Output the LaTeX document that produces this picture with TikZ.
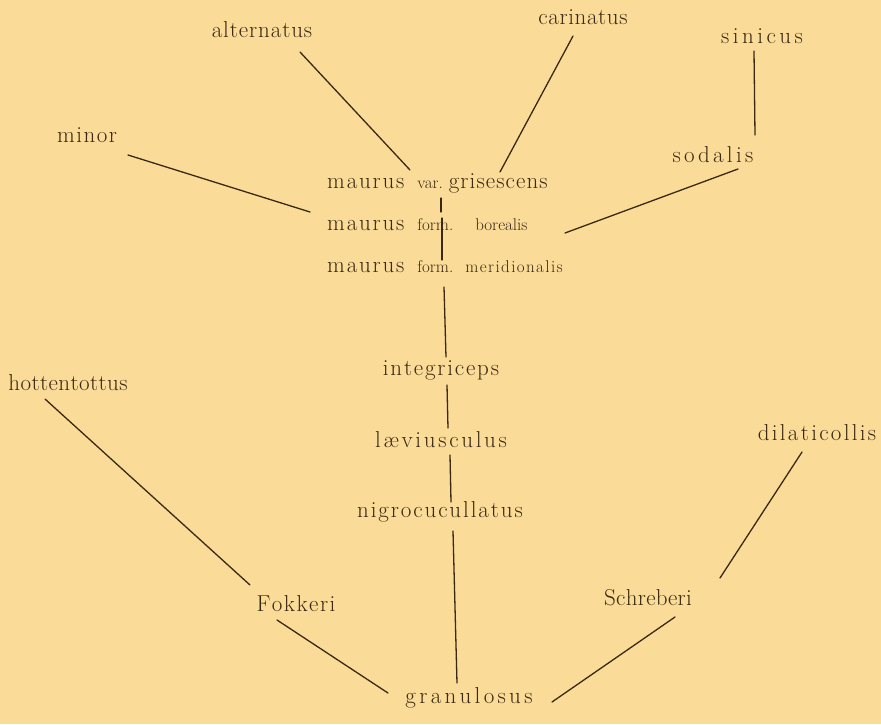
\documentclass[tikz,border=0pt]{standalone}
\usetikzlibrary{calc}
\definecolor{paper}{HTML}{FADB98}
\definecolor{ink}{HTML}{3A2912}
\tikzset{
  lab/.style={font=\fontsize{23}{25}\selectfont, text=ink, inner sep=0pt, anchor=base},
  mlab/.style={lab, anchor=base west},
  branch/.style={draw=ink, line width=1.3pt, line cap=round}
}
\makeatletter
% letter-spaced word: \tr{kern}{word}
\def\tr#1#2{\def\tr@k{\kern#1pt}\tr@first#2\@nil}
\def\tr@first#1{#1\tr@loop}
\def\tr@loop#1{\ifx#1\@nil\else\tr@k#1\expandafter\tr@loop\fi}
\makeatother
\newcommand{\sm}[1]{{\fontsize{17}{19}\selectfont #1}}
\begin{document}
\begin{tikzpicture}[x=1pt,y=-1pt]
\fill[paper] (0,0) rectangle (881,724);
\useasboundingbox (0,0) rectangle (881,724);
% nodes
\node[lab] (alt) at (262,37) {\tr{0.9}{alternatus}};
\node[lab] (car) at (583,24) {\tr{0.6}{carinatus}};
\node[lab] (sin) at (762,43) {\tr{3.5}{sinicus}};
\node[lab] (min) at (87,142) {\tr{1.5}{minor}};
\node[lab] (sod) at (713,162) {\tr{3.3}{sodalis}};
\node[mlab] (gri) at (327,188) {\tr{1.8}{maurus}\hspace{13pt}\sm{var.}\hspace{6pt}\tr{1.1}{grisescens}};
\node[mlab] (bor) at (327,230) {\tr{1.8}{maurus}\hspace{13pt}\sm{form.\hspace{22pt}borealis}};
\node[mlab] (mer) at (327,272) {\tr{1.8}{maurus}\hspace{13pt}\sm{form.\hspace{12pt}\tr{1.4}{meridionalis}}};
\node[lab] (int) at (441,375) {\tr{1.8}{integriceps}};
\node[lab] (lae) at (441,447) {\tr{2.7}{læviusculus}};
\node[lab] (nig) at (440,517) {\tr{1.9}{nigrocucullatus}};
\node[lab] (hot) at (68,390) {\tr{0.4}{hottentottus}};
\node[lab] (dil) at (817,440) {\tr{2.3}{dilaticollis}};
\node[lab] (fok) at (296,611) {\tr{1.5}{Fokkeri}};
\node[lab] (sch) at (648,605) {\tr{0.3}{Schreberi}};
\node[lab] (gra) at (469,703) {\tr{3.3}{granulosus}};
% connectors
\draw[branch] ($(alt.base)+(38,15)$) -- ($(gri.base west)+(83,-18)$);
\draw[branch] ($(car.base)+(-10,12)$) -- ($(gri.base west)+(173,-16)$);
\draw[branch] ($(min.base)+(41,13)$) -- ($(bor.base west)+(-17,-18)$);
\draw[branch] ($(sod.base)+(25,7)$) -- ($(bor.base west)+(238,3)$);
\draw[branch] ($(sin.base)+(-8,8)$) -- ($(sod.base)+(42,-27)$);
\draw[branch] ($(gri.base west)+(114,10)$) -- ($(bor.base west)+(114,-18)$);
\draw[branch] ($(bor.base west)+(115,-12)$) -- ($(mer.base west)+(115,-12)$);
\draw[branch] ($(mer.base west)+(117,15)$) -- ($(int.base)+(5,-18)$);
\draw[branch] ($(int.base)+(6,10)$) -- ($(lae.base)+(7,-19)$);
\draw[branch] ($(lae.base)+(9,8)$) -- ($(nig.base)+(11,-15)$);
\draw[branch] ($(nig.base)+(13,14)$) -- ($(gra.base)+(-12,-20)$);
\draw[branch] ($(hot.base)+(-23,9)$) -- ($(fok.base)+(-46,-26)$);
\draw[branch] ($(fok.base)+(-19,9)$) -- ($(gra.base)+(-81,-10)$);
\draw[branch] ($(gra.base)+(83,-1)$) -- ($(sch.base)+(27,12)$);
\draw[branch] ($(sch.base)+(72,-27)$) -- ($(dil.base)+(-15,12)$);
\end{tikzpicture}
\end{document}
